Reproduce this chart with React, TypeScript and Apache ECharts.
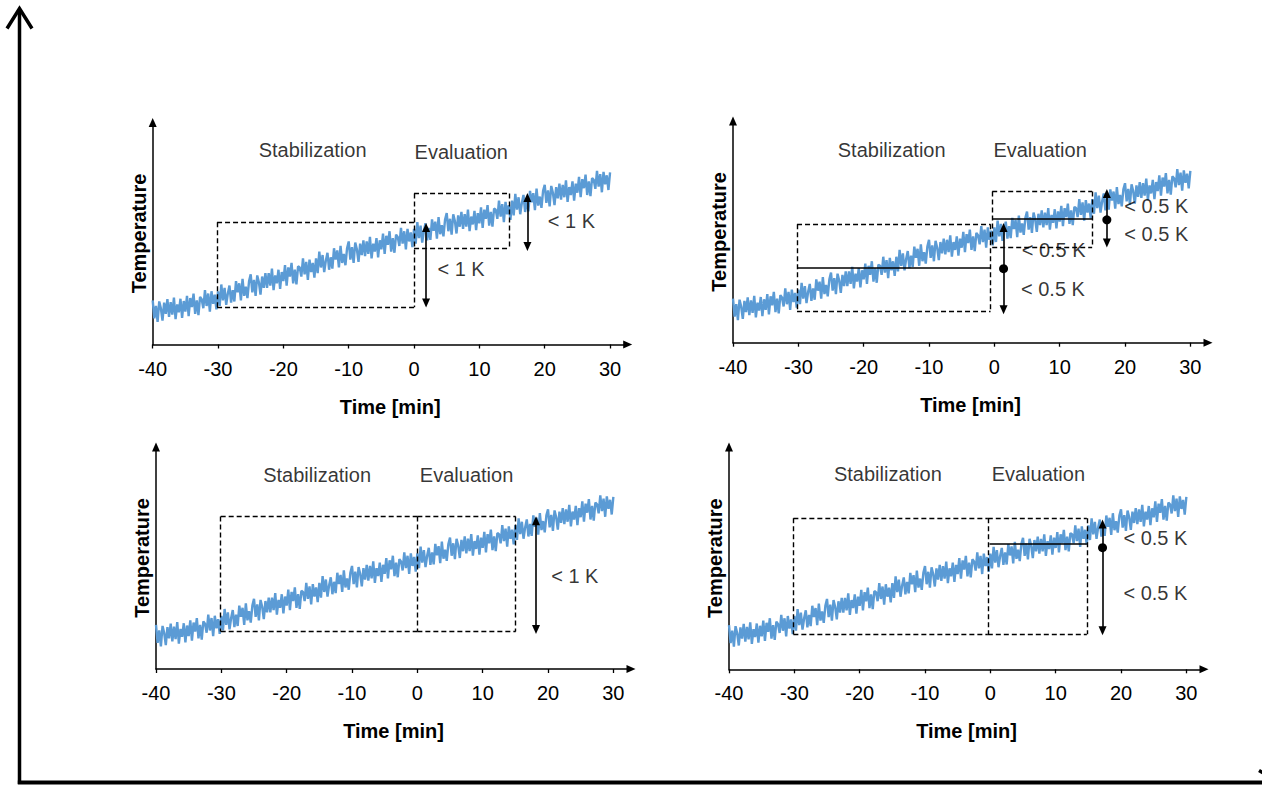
import React, { useEffect, useRef } from "react";
import * as echarts from "echarts";

// time axis samples [min]
const times = [
  -40, -39.75, -39.5, -39.25, -39, -38.75, -38.5, -38.25, -38, -37.75, -37.5, -37.25, -37, -36.75, -36.5, -36.25, -36, -35.75, -35.5, -35.25,
  -35, -34.75, -34.5, -34.25, -34, -33.75, -33.5, -33.25, -33, -32.75, -32.5, -32.25, -32, -31.75, -31.5, -31.25, -31, -30.75, -30.5, -30.25,
  -30, -29.75, -29.5, -29.25, -29, -28.75, -28.5, -28.25, -28, -27.75, -27.5, -27.25, -27, -26.75, -26.5, -26.25, -26, -25.75, -25.5, -25.25,
  -25, -24.75, -24.5, -24.25, -24, -23.75, -23.5, -23.25, -23, -22.75, -22.5, -22.25, -22, -21.75, -21.5, -21.25, -21, -20.75, -20.5, -20.25,
  -20, -19.75, -19.5, -19.25, -19, -18.75, -18.5, -18.25, -18, -17.75, -17.5, -17.25, -17, -16.75, -16.5, -16.25, -16, -15.75, -15.5, -15.25,
  -15, -14.75, -14.5, -14.25, -14, -13.75, -13.5, -13.25, -13, -12.75, -12.5, -12.25, -12, -11.75, -11.5, -11.25, -11, -10.75, -10.5, -10.25,
  -10, -9.75, -9.5, -9.25, -9, -8.75, -8.5, -8.25, -8, -7.75, -7.5, -7.25, -7, -6.75, -6.5, -6.25, -6, -5.75, -5.5, -5.25,
  -5, -4.75, -4.5, -4.25, -4, -3.75, -3.5, -3.25, -3, -2.75, -2.5, -2.25, -2, -1.75, -1.5, -1.25, -1, -0.75, -0.5, -0.25,
  0, 0.25, 0.5, 0.75, 1, 1.25, 1.5, 1.75, 2, 2.25, 2.5, 2.75, 3, 3.25, 3.5, 3.75, 4, 4.25, 4.5, 4.75,
  5, 5.25, 5.5, 5.75, 6, 6.25, 6.5, 6.75, 7, 7.25, 7.5, 7.75, 8, 8.25, 8.5, 8.75, 9, 9.25, 9.5, 9.75,
  10, 10.25, 10.5, 10.75, 11, 11.25, 11.5, 11.75, 12, 12.25, 12.5, 12.75, 13, 13.25, 13.5, 13.75, 14, 14.25, 14.5, 14.75,
  15, 15.25, 15.5, 15.75, 16, 16.25, 16.5, 16.75, 17, 17.25, 17.5, 17.75, 18, 18.25, 18.5, 18.75, 19, 19.25, 19.5, 19.75,
  20, 20.25, 20.5, 20.75, 21, 21.25, 21.5, 21.75, 22, 22.25, 22.5, 22.75, 23, 23.25, 23.5, 23.75, 24, 24.25, 24.5, 24.75,
  25, 25.25, 25.5, 25.75, 26, 26.25, 26.5, 26.75, 27, 27.25, 27.5, 27.75, 28, 28.25, 28.5, 28.75, 29, 29.25, 29.5, 29.75,
  30,
];

// temperature (arbitrary units, schematic)
const temps = [
  1.95, 1.15, 1.7, 1.0, 1.9, 1.6, 1.05, 1.85, 1.35, 2.0, 1.22, 1.87, 1.32, 2.07, 1.12, 1.77, 1.42, 2.02, 1.17, 1.92,
  1.45, 2.15, 1.25, 2.05, 1.65, 2.25, 1.35, 1.95, 1.3, 2.1, 2.0, 1.6, 2.4, 1.7, 2.25, 1.45, 2.35, 1.8, 2.2, 1.55,
  2.35, 1.7, 2.65, 1.95, 2.5, 1.75, 2.25, 2.6, 1.85, 2.4, 1.9, 2.8, 2.3, 2.7, 1.95, 2.9, 2.15, 2.55, 2.05, 2.8,
  3.1, 2.3, 2.85, 2.15, 3.05, 2.75, 2.2, 3.0, 2.5, 3.15, 2.5, 3.15, 2.6, 3.35, 2.4, 3.05, 2.7, 3.3, 2.45, 3.2,
  2.8, 3.5, 2.6, 3.4, 3.0, 3.6, 2.7, 3.3, 2.65, 3.45, 3.4, 3.0, 3.8, 3.1, 3.65, 2.85, 3.75, 3.2, 3.6, 2.95,
  3.8, 3.15, 4.1, 3.4, 3.95, 3.2, 3.7, 4.05, 3.3, 3.85, 3.35, 4.25, 3.75, 4.15, 3.4, 4.35, 3.6, 4.0, 3.5, 4.25,
  4.55, 3.75, 4.3, 3.6, 4.5, 4.2, 3.65, 4.45, 3.95, 4.6, 3.9, 4.55, 4.0, 4.75, 3.8, 4.45, 4.1, 4.7, 3.85, 4.6,
  4.2, 4.9, 4.0, 4.8, 4.4, 5.0, 4.1, 4.7, 4.05, 4.85, 4.75, 4.35, 5.15, 4.45, 5.0, 4.2, 5.1, 4.55, 4.95, 4.3,
  5.1, 4.45, 5.4, 4.7, 5.25, 4.5, 5.0, 5.35, 4.6, 5.15, 4.62, 5.52, 5.02, 5.42, 4.67, 5.62, 4.87, 5.27, 4.77, 5.52,
  5.8, 5.0, 5.55, 4.85, 5.75, 5.45, 4.9, 5.7, 5.2, 5.85, 5.1, 5.75, 5.2, 5.95, 5.0, 5.65, 5.3, 5.9, 5.05, 5.8,
  5.35, 6.05, 5.15, 5.95, 5.55, 6.15, 5.25, 5.85, 5.2, 6.0, 5.95, 5.55, 6.35, 5.65, 6.2, 5.4, 6.3, 5.75, 6.15, 5.5,
  6.35, 5.7, 6.65, 5.95, 6.5, 5.75, 6.25, 6.6, 5.85, 6.4, 5.88, 6.78, 6.28, 6.68, 5.93, 6.88, 6.13, 6.53, 6.03, 6.78,
  7.05, 6.25, 6.8, 6.1, 7.0, 6.7, 6.15, 6.95, 6.45, 7.1, 6.4, 7.05, 6.5, 7.25, 6.3, 6.95, 6.6, 7.2, 6.35, 7.1,
  6.7, 7.4, 6.5, 7.3, 6.9, 7.5, 6.6, 7.2, 6.55, 7.35, 7.27, 6.87, 7.67, 6.97, 7.52, 6.72, 7.62, 7.07, 7.47, 6.82,
  7.6,
];

const tickValues = [-40, -30, -20, -10, 0, 10, 20, 30];
const xTitle = "Time [min]";
const yTitle = "Temperature";

// Panel 1 (top-left)
const boxes1 = [[-30.15, 1.64, 0, 5.4], [0, 4.25, 14.6, 6.67]]; // [t1, v1, t2, v2]
const levels1: number[][] = []; // [t1, t2, v]
const arrows1 = [[1.84, 1.64, 5.35], [17.35, 4.14, 6.68]]; // [t, vLow, vHigh]
const dots1: number[][] = [];
const labels1: [number, number, string][] = [
  [-23.85, 8.59, "Stabilization"], [0.0, 8.49, "Evaluation"],
  [3.5, 3.32, "< 1 K"], [20.4, 5.43, "< 1 K"],
];
const fades1: number[][] = [];

// Panel 2 (top-right)
const boxes2 = [[-30.2, 1.37, -0.58, 5.24], [-0.33, 4.22, 14.97, 6.68]];
const levels2 = [[-30.2, -0.58, 3.32], [-0.33, 14.97, 5.46]];
const arrows2 = [[1.41, 1.27, 5.28], [17.22, 4.22, 6.78]];
const dots2 = [[1.41, 3.27], [17.22, 5.43]];
const labels2: [number, number, string][] = [
  [-24.04, 8.5, "Stabilization"], [-0.22, 8.5, "Evaluation"],
  [4.11, 4.1, "< 0.5 K"], [4.0, 2.36, "< 0.5 K"],
  [19.82, 6.05, "< 0.5 K"], [19.82, 4.81, "< 0.5 K"],
];
const fades2 = [[17.6, 5.65, 28.8, 6.85], [-0.3, 4.25, 3.9, 5.1]];

// Panel 3 (bottom-left)
const boxes3 = [[-30.1, 1.65, 0, 6.73], [0, 1.65, 15.05, 6.73]];
const levels3: number[][] = [];
const arrows3 = [[18.16, 1.55, 6.73]];
const dots3: number[][] = [];
const labels3: [number, number, string][] = [
  [-23.67, 8.57, "Stabilization"], [0.31, 8.57, "Evaluation"], [20.41, 4.11, "< 1 K"],
];
const fades3: number[][] = [];

// Panel 4 (bottom-right)
const boxes4 = [[-30.15, 1.55, -0.39, 6.66], [-0.39, 1.55, 14.77, 6.66]];
const levels4 = [[-0.13, 14.77, 5.53]];
const arrows4 = [[17.17, 1.51, 6.59]];
const dots4 = [[17.17, 5.36]];
const labels4: [number, number, string][] = [
  [-24.02, 8.61, "Stabilization"], [0.12, 8.61, "Evaluation"],
  [20.29, 5.8, "< 0.5 K"], [20.29, 3.38, "< 0.5 K"],
];
const fades4 = [[16.9, 6.0, 22.8, 6.87]];

const FONT = "'Liberation Sans', Arial, Helvetica, sans-serif";
const LINE_COLOR = "#5b9bd5";

const panels = [
  { grid: { left: 152.7, top: 122.5, width: 475, height: 222 }, boxes: boxes1, levels: levels1, arrows: arrows1, dots: dots1, labels: labels1, fades: fades1 },
  { grid: { left: 733, top: 121, width: 475, height: 221.7 }, boxes: boxes2, levels: levels2, arrows: arrows2, dots: dots2, labels: labels2, fades: fades2 },
  { grid: { left: 156, top: 447, width: 475, height: 222 }, boxes: boxes3, levels: levels3, arrows: arrows3, dots: dots3, labels: labels3, fades: fades3 },
  { grid: { left: 729, top: 447, width: 475, height: 222.3 }, boxes: boxes4, levels: levels4, arrows: arrows4, dots: dots4, labels: labels4, fades: fades4 },
];

// Turn boxes into dashed edge segments, merging vertical edges that share the same time
function boxSegments(boxes: number[][]) {
  const segs: number[][] = [];
  const verticals: Record<string, number[][]> = {};
  boxes.forEach(([t1, v1, t2, v2]) => {
    segs.push([t1, v2, t2, v2]);
    segs.push([t1, v1, t2, v1]);
    [t1, t2].forEach((t) => {
      const k = t.toFixed(3);
      (verticals[k] = verticals[k] || []).push([Math.min(v1, v2), Math.max(v1, v2)]);
    });
  });
  Object.keys(verticals).forEach((k) => {
    const t = parseFloat(k);
    const iv = verticals[k].sort((a, b) => a[0] - b[0]);
    let cur = iv[0].slice();
    for (let i = 1; i < iv.length; i++) {
      if (iv[i][0] <= cur[1]) cur[1] = Math.max(cur[1], iv[i][1]);
      else { segs.push([t, cur[1], t, cur[0]]); cur = iv[i].slice(); }
    }
    segs.push([t, cur[1], t, cur[0]]);
  });
  return segs;
}

function buildOption() {
  const lineData = times.map((t, i) => [t, temps[i]]);
  const inset = 0.19;
  const series: any[] = [];
  panels.forEach((p, i) => {
    series.push({
      type: "line", xAxisIndex: i, yAxisIndex: i, data: lineData, showSymbol: false, symbol: "none",
      lineStyle: { color: LINE_COLOR, width: 2.4 }, z: 2, silent: true,
    });
    series.push({
      type: "scatter", xAxisIndex: i, yAxisIndex: i, data: [], z: 3, silent: true,
      markArea: {
        silent: true,
        itemStyle: { color: "rgba(255,255,255,0.5)", borderWidth: 0 },
        data: p.fades.map((f) => [{ coord: [f[0], f[1]] }, { coord: [f[2], f[3]] }]),
      },
    });
    series.push({
      type: "scatter", xAxisIndex: i, yAxisIndex: i, data: [], z: 4, silent: true,
      markLine: {
        silent: true, symbol: ["none", "none"], label: { show: false },
        lineStyle: { color: "#000", width: 1.4, type: [5, 3] },
        data: boxSegments(p.boxes).map((s) => [{ coord: [s[0], s[1]] }, { coord: [s[2], s[3]] }]),
      },
    });
    series.push({
      type: "scatter", xAxisIndex: i, yAxisIndex: i, data: [], z: 4, silent: true,
      markLine: {
        silent: true, symbol: ["none", "none"], label: { show: false },
        lineStyle: { color: "#000", width: 1.5, type: "solid" },
        data: p.levels.map((l) => [{ coord: [l[0], l[2]] }, { coord: [l[1], l[2]] }]),
      },
    });
    series.push({
      type: "scatter", xAxisIndex: i, yAxisIndex: i, data: [], z: 5, silent: true,
      markLine: {
        silent: true, symbol: ["triangle", "triangle"], symbolSize: [8, 9], label: { show: false },
        lineStyle: { color: "#000", width: 1.6, type: "solid" },
        itemStyle: { color: "#000" },
        data: p.arrows.map((a) => [{ coord: [a[0], a[1] + inset] }, { coord: [a[0], a[2] - inset] }]),
      },
    });
    series.push({
      type: "scatter", xAxisIndex: i, yAxisIndex: i, z: 6, silent: true,
      data: [
        ...p.labels.map((l) => ({
          value: [l[0], l[1]], symbolSize: 1, itemStyle: { color: "rgba(0,0,0,0)" },
          label: {
            show: true, formatter: l[2], position: "right", distance: 0,
            color: "#000", fontSize: 20, fontFamily: FONT,
          },
        })),
        ...p.dots.map((d) => ({
          value: [d[0], d[1]], symbolSize: 9, itemStyle: { color: "#000", opacity: 1 }, label: { show: false },
        })),
      ],
    });
  });

  const axisText = { color: "#000", fontSize: 20, fontFamily: FONT };
  return {
    animation: false,
    backgroundColor: "#fff",
    grid: panels.map((p) => ({ ...p.grid, containLabel: false })),
    xAxis: panels.map((_, i) => ({
      gridIndex: i, type: "value", min: -40, max: 32.7,
      name: xTitle, nameLocation: "middle", nameGap: 52,
      nameTextStyle: { ...axisText, fontWeight: "bold" },
      axisLine: { show: true, onZero: false, symbol: ["none", "triangle"], symbolSize: [8, 9], lineStyle: { color: "#000", width: 1.5 } },
      axisTick: { show: true, length: 4, customValues: tickValues, lineStyle: { color: "#000", width: 1.3 } },
      axisLabel: { ...axisText, customValues: tickValues, margin: 14 },
      splitLine: { show: false },
    })),
    yAxis: panels.map((_, i) => ({
      gridIndex: i, type: "value", min: 0, max: 9.8,
      name: yTitle, nameLocation: "middle", nameGap: 4, nameRotate: 90,
      nameTextStyle: { ...axisText, fontWeight: "bold" },
      axisLine: { show: true, onZero: false, symbol: ["none", "triangle"], symbolSize: [8, 9], lineStyle: { color: "#000", width: 1.5 } },
      axisTick: { show: false },
      axisLabel: { show: false },
      splitLine: { show: false },
    })),
    graphic: [
      { type: "line", shape: { x1: 19.5, y1: 9, x2: 19.5, y2: 784 }, style: { stroke: "#000", lineWidth: 3.5 } },
      { type: "polyline", shape: { points: [[7, 28.5], [19.5, 8.5], [32, 28.5]] }, style: { stroke: "#000", lineWidth: 3.5, fill: null } },
      { type: "line", shape: { x1: 17.8, y1: 782.5, x2: 1262, y2: 782.5 }, style: { stroke: "#000", lineWidth: 4 } },
      { type: "line", shape: { x1: 1259, y1: 770.5, x2: 1280, y2: 782.5 }, style: { stroke: "#000", lineWidth: 3.5 } },
    ],
    series,
  };
}

export default function App() {
  const ref = useRef<HTMLDivElement>(null);
  useEffect(() => {
    document.body.style.margin = "0";
    if (!ref.current) return;
    const chart = echarts.init(ref.current, null, { renderer: "svg" });
    chart.setOption(buildOption() as any);
    return () => chart.dispose();
  }, []);
  return <div ref={ref} style={{ width: 1262, height: 786 }} />;
}
